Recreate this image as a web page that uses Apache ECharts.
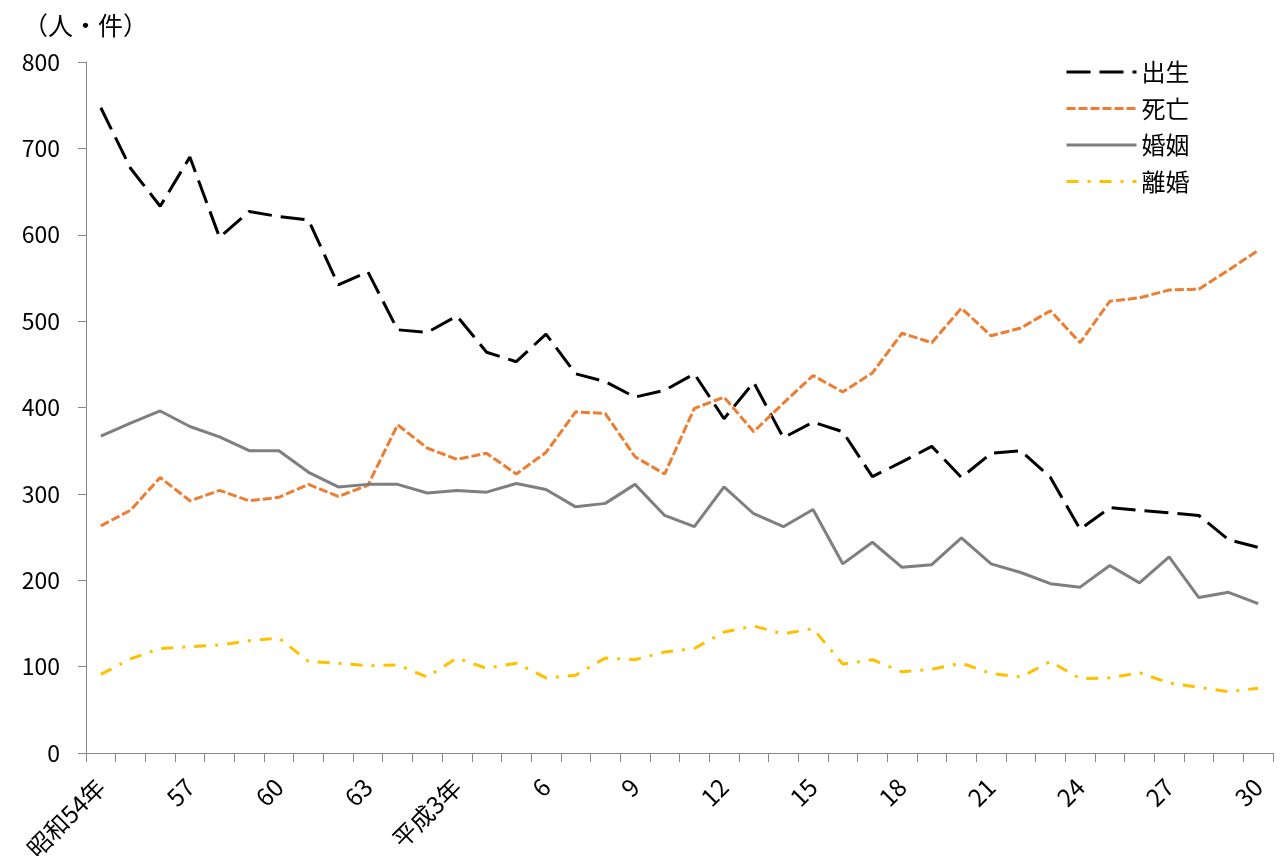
<!DOCTYPE html>
<html lang="ja">
<head>
<meta charset="utf-8">
<title>出生・死亡・婚姻・離婚</title>
<script src="https://cdn.jsdelivr.net/npm/echarts@6/dist/echarts.min.js"></script>
<style>
  html, body { margin: 0; padding: 0; background: #fff; }
  #chart { width: 1280px; height: 856px; }
</style>
</head>
<body>
<div id="chart"></div>
<script>
// 昭和54年〜平成30年
const years = [
  "昭和54年", "55", "56", "57", "58", "59", "60", "61", "62", "63",
  "平成元年", "2", "平成3年", "4", "5", "6", "7", "8", "9", "10",
  "11", "12", "13", "14", "15", "16", "17", "18", "19", "20",
  "21", "22", "23", "24", "25", "26", "27", "28", "29", "30"
]

const births = [
  747, 677, 633, 690, 597, 627, 621, 617, 542, 557,
  490, 487, 506, 464, 453, 485, 439, 430, 412, 420,
  439, 387, 429, 365, 383, 372, 320, 337, 355, 319,
  347, 350, 319, 259, 284, 281, 278, 275, 247, 238
]
const deaths = [
  263, 281, 319, 292, 304, 292, 296, 311, 297, 310,
  380, 353, 340, 347, 323, 348, 395, 393, 343, 323,
  399, 412, 372, 405, 437, 418, 440, 486, 475, 515,
  483, 492, 512, 475, 523, 527, 536, 537, 559, 582
]
const marriages = [
  367, 382, 396, 378, 366, 350, 350, 325, 308, 311,
  311, 301, 304, 302, 312, 305, 285, 289, 311, 275,
  262, 308, 277, 262, 282, 219, 244, 215, 218, 249,
  219, 209, 196, 192, 217, 197, 227, 180, 186, 173
]
const divorces = [
  91, 109, 121, 123, 125, 130, 133, 106, 104, 101,
  102, 88, 110, 98, 104, 87, 90, 110, 108, 117,
  121, 140, 147, 138, 144, 103, 108, 94, 97, 104,
  92, 88, 106, 86, 87, 93, 81, 76, 71, 75
]

const font = "'Noto Sans CJK JP', 'Noto Sans', sans-serif"

const chart = echarts.init(document.getElementById("chart"))

function lineSeries(name, data, color, type) {
  return {
    name: name,
    type: "line",
    data: data,
    symbol: "none",
    animation: false,
    lineStyle: { color: color, width: 3, type: type, cap: "butt" },
    itemStyle: { color: color }
  }
}

chart.setOption({
  animation: false,
  textStyle: { fontFamily: font },
  title: {
    text: "（人・件）",
    left: 18,
    top: 8,
    textStyle: { fontSize: 25, fontWeight: "normal", color: "#000", fontFamily: font }
  },
  legend: {
    orient: "vertical",
    left: 1060,
    top: 54,
    itemWidth: 70,
    itemHeight: 14,
    itemGap: 10.5,
    itemStyle: { opacity: 0 },
    lineStyle: { width: 3 },
    textStyle: { fontSize: 24, color: "#000", lineHeight: 26, fontFamily: font },
    data: ["出生", "死亡", "婚姻", "離婚"]
  },
  grid: {
    left: 86,
    right: 7,
    top: 62,
    bottom: 103,
    containLabel: false,
    outerBoundsMode: "none"
  },
  xAxis: {
    type: "category",
    data: years,
    boundaryGap: true,
    axisLine: { lineStyle: { color: "#898989", width: 1 } },
    axisTick: { show: true, interval: 0, length: 9, lineStyle: { color: "#898989" } },
    axisLabel: {
      interval: 2,
      rotate: 45,
      margin: 30,
      align: "right",
      verticalAlign: "middle",
      color: "#000",
      fontSize: 24,
      fontFamily: font
    },
    splitLine: { show: false }
  },
  yAxis: {
    type: "value",
    min: 0,
    max: 800,
    interval: 100,
    axisLine: { show: true, lineStyle: { color: "#898989", width: 1 } },
    axisTick: { show: true, length: 8, lineStyle: { color: "#898989" } },
    axisLabel: { color: "#000", fontSize: 23, margin: 26, fontFamily: font },
    splitLine: { show: false }
  },
  series: [
    lineSeries("出生", births, "#000000", [24, 9]),
    lineSeries("死亡", deaths, "#ED7D31", [9, 3]),
    lineSeries("婚姻", marriages, "#7F7F7F", "solid"),
    lineSeries("離婚", divorces, "#FFC000", [12, 9, 3, 9])
  ]
})

window.addEventListener("resize", () => chart.resize())
</script>
</body>
</html>
